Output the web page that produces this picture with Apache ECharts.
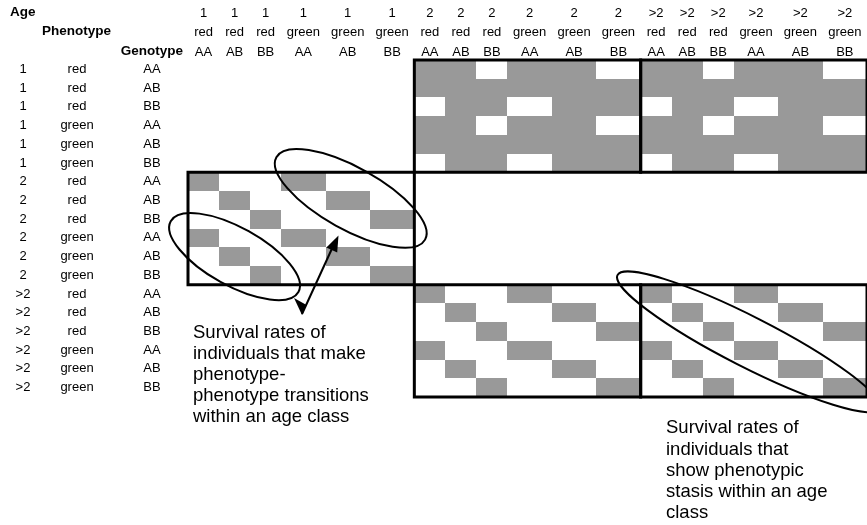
<!DOCTYPE html>
<html><head><meta charset="utf-8">
<script src="https://cdn.jsdelivr.net/npm/echarts@6/dist/echarts.min.js"></script>
<style>html,body{margin:0;padding:0;background:#fff}#c{width:867px;height:525px}</style>
</head><body><div id="c"></div><script>
// ---------- data ----------
const ageClasses = ['1', '2', '>2'];
const phenotypes = ['red', 'red', 'red', 'green', 'green', 'green'];
const genotypes = ['AA', 'AB', 'BB', 'AA', 'AB', 'BB'];
const headerTitles = ['Age', 'Phenotype', 'Genotype'];
// 1 = non-zero (shaded) matrix entry, rows = states (to), columns = states (from)
const cellRows = [
  '000000110110110110',
  '000000111111111111',
  '000000011011011011',
  '000000110110110110',
  '000000111111111111',
  '000000011011011011',
  '100100000000000000',
  '010010000000000000',
  '001001000000000000',
  '100100000000000000',
  '010010000000000000',
  '001001000000000000',
  '000000100100100100',
  '000000010010010010',
  '000000001001001001',
  '000000100100100100',
  '000000010010010010',
  '000000001001001001'
];
// outlined sub-matrices [row age class, column age class]
const outlinedBlocks = [[0, 1], [0, 2], [1, 0], [2, 1], [2, 2]];
const noteTransitions = ['Survival rates of', 'individuals that make', 'phenotype-', 'phenotype transitions', 'within an age class'];
const noteStasis = ['Survival rates of', 'individuals that', 'show phenotypic', 'stasis within an age', 'class'];

// ---------- build ----------
const FONT = 'Liberation Sans, Arial, Helvetica, sans-serif';
const states = [];
ageClasses.forEach(a => phenotypes.forEach((p, k) => states.push({ age: a, pheno: p, geno: genotypes[k] })));
const UNIT = { red: 1, green: 1.43 };
const colStart = []; let acc = 0;
states.forEach(s => { colStart.push(acc); acc += UNIT[s.pheno]; });
colStart.push(acc);
const totalW = acc;
const colMid = c => (colStart[c] + colStart[c + 1]) / 2;

const cellData = [];
cellRows.forEach((row, r) => row.split('').forEach((v, c) => {
  if (v === '1') cellData.push([colStart[c], colStart[c + 1], r]);
}));
const blockData = outlinedBlocks.map(([ra, ca]) => [colStart[ca * 6], colStart[ca * 6 + 6], ra * 6, ra * 6 + 5]);
const headerData = states.map((s, c) => [colMid(c), c]);

// ellipses enclose the diagonal between two cells [col,row]
const ellipseSpecs = [
  { cells: [[0, 9], [2, 11]], rx: 73, ry: 29, angle: 29, dx: 0, dy: 0 },
  { cells: [[3, 6], [5, 8]], rx: 85, ry: 31, angle: 29, dx: 3, dy: -2 },
  { cells: [[12, 12], [17, 17]], rx: 147, ry: 25, angle: 27, dx: -2, dy: 1 }
];

function renderCell(params, api) {
  const p0 = api.coord([api.value(0), api.value(2)]);
  const p1 = api.coord([api.value(1), api.value(2)]);
  const h = api.size([0, 1])[1];
  const x = Math.round(p0[0]), y = Math.round(p0[1] - h / 2);
  return { type: 'rect', shape: { x: x, y: y, width: Math.round(p1[0]) - x, height: Math.round(p0[1] + h / 2) - y },
    style: { fill: '#999999' } };
}
function renderBlock(params, api) {
  const p0 = api.coord([api.value(0), api.value(2)]);
  const p1 = api.coord([api.value(1), api.value(3)]);
  const h = api.size([0, 1])[1];
  const y0 = p0[1] - h / 2, y1 = p1[1] + h / 2;
  return { type: 'rect', shape: { x: p0[0], y: y0, width: p1[0] - p0[0], height: y1 - y0 },
    style: { fill: 'none', stroke: '#000', lineWidth: 3 } };
}
function renderHeader(params, api) {
  const c = api.value(1);
  const p = api.coord([api.value(0), 0]);
  const h = api.size([0, 1])[1];
  const top = p[1] - h / 2;
  const s = states[c];
  const lines = [s.age, s.pheno, s.geno];
  const offs = [47, 28, 8];
  return { type: 'group', children: lines.map((t, i) => ({
    type: 'text',
    style: { text: t, x: p[0], y: top - offs[i], align: 'center', verticalAlign: 'middle',
      textAlign: 'center', textVerticalAlign: 'middle', fontSize: 13, fontFamily: FONT, fill: '#000' }
  })) };
}
function renderEllipse(params, api) {
  const e = ellipseSpecs[params.dataIndex];
  const a = api.coord([colMid(e.cells[0][0]), e.cells[0][1]]);
  const b = api.coord([colMid(e.cells[1][0]), e.cells[1][1]]);
  return { type: 'ellipse', x: (a[0] + b[0]) / 2 + e.dx, y: (a[1] + b[1]) / 2 + e.dy, rotation: -e.angle * Math.PI / 180,
    shape: { cx: 0, cy: 0, rx: e.rx, ry: e.ry },
    style: { fill: 'none', stroke: '#000', lineWidth: 2 } };
}

const graphics = [
  { type: 'text', left: 10, top: 5, style: { text: headerTitles[0], fontSize: 13.5, fontWeight: 'bold', fontFamily: FONT, fill: '#000' } },
  { type: 'text', left: 42, top: 24, style: { text: headerTitles[1], fontSize: 13.5, fontWeight: 'bold', fontFamily: FONT, fill: '#000' } },
  { type: 'text', right: 867 - 183, top: 44, style: { text: headerTitles[2], fontSize: 13.5, fontWeight: 'bold', fontFamily: FONT, fill: '#000' } },
  { type: 'line', z: 100, shape: { x1: 302, y1: 314, x2: 335, y2: 242 }, style: { stroke: '#000', lineWidth: 2 } },
  { type: 'polygon', z: 100, shape: { points: [[338.5, 235.5], [337.2, 252.5], [326.4, 247.5]] }, style: { fill: '#000' } },
  { type: 'polygon', z: 100, shape: { points: [[294, 298], [306.5, 305], [302, 315]] }, style: { fill: '#000' } }
];
noteTransitions.forEach((t, i) => graphics.push({ type: 'text', z: 100, x: 193, y: 332.7 + 21.15 * i,
  style: { text: t, fontSize: 18.5, fontFamily: FONT, fill: '#000', textVerticalAlign: 'middle', verticalAlign: 'middle' } }));
noteStasis.forEach((t, i) => graphics.push({ type: 'text', z: 100, x: 666, y: 428.3 + 21.25 * i,
  style: { text: t, fontSize: 18.5, fontFamily: FONT, fill: '#000', textVerticalAlign: 'middle', verticalAlign: 'middle' } }));

const chart = echarts.init(document.getElementById('c'), null, { renderer: 'canvas' });
chart.setOption({
  animation: false,
  backgroundColor: '#fff',
  grid: { left: 188, top: 60, width: 679, height: 337 },
  xAxis: { type: 'value', min: 0, max: totalW, show: false },
  yAxis: {
    type: 'category', inverse: true, data: states.map((s, i) => String(i)),
    axisLine: { show: false }, axisTick: { show: false }, splitLine: { show: false },
    axisLabel: {
      interval: 0, margin: 8, color: '#000', fontSize: 13, fontFamily: FONT,
      formatter: (v, i) => { const s = states[i]; return '{a|' + s.age + '}{b|' + s.pheno + '}{c|' + s.geno + '}'; },
      rich: {
        a: { width: 14, align: 'center', fontSize: 13, fontFamily: FONT, color: '#000' },
        b: { width: 94, align: 'center', fontSize: 13, fontFamily: FONT, color: '#000' },
        c: { width: 56, align: 'center', fontSize: 13, fontFamily: FONT, color: '#000' }
      }
    }
  },
  series: [
    { type: 'custom', name: 'cells', renderItem: renderCell, data: cellData, encode: { x: [0, 1], y: 2 }, silent: true, z: 1 },
    { type: 'custom', name: 'blocks', renderItem: renderBlock, data: blockData, encode: { x: [0, 1], y: [2, 3] }, silent: true, z: 2 },
    { type: 'custom', name: 'header', renderItem: renderHeader, data: headerData, encode: { x: 0, y: 1 }, silent: true, z: 3 },
    { type: 'custom', name: 'ellipses', renderItem: renderEllipse, data: ellipseSpecs.map((e, i) => [i]), silent: true, z: 4 }
  ],
  graphic: graphics
});
</script></body></html>
